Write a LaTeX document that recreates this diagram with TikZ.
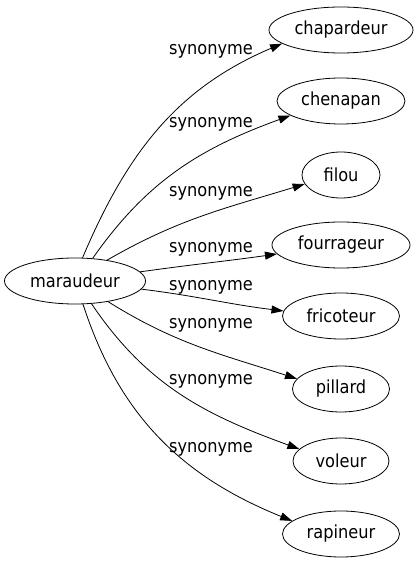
\documentclass[tikz,border=0pt]{standalone}
\usepackage{fontspec}
\setmainfont[FakeStretch=0.9]{DejaVu Sans}
\usetikzlibrary{shapes.geometric,arrows.meta}
\tikzset{
    word/.style={draw,ellipse,inner sep=0pt,minimum height=46pt,line width=.8pt,font=\fontsize{18}{20}\selectfont},
    syn/.style={font=\fontsize{18}{20}\selectfont},
    rel/.style={line width=.8pt,-{Triangle[length=12pt,width=8pt]}}
}
\begin{document}
\begin{tikzpicture}[x=1pt,y=1pt]
        \useasboundingbox (0,0) rectangle (419,563);
        \node[word,minimum width=141pt] (mar) at (75,282) {maraudeur};
        \foreach \n/\t/\y/\w in {chap/chapardeur/533/144,chen/chenapan/462/128,fil/filou/388/78,four/fourrageur/318/138,fric/fricoteur/247/117,pil/pillard/174/97,vol/voleur/102/96,rap/rapineur/29/117}{
            \node[word,minimum width=\w pt] (\n) at (341,\y) {\t};
        }
        \foreach[count=\k] \n/\a/\o/\b/\i/\ly in {chap/72/67/193/203/512,chen/52/55/196/200/439,fil/33/30/194/197/370,four/8/8/188/188/314,fric/353/-7/175/173/276,pil/328/-32/167/162/238,vol/306/-56/164/160/182,rap/289/-72/165/158/114}{
            \draw [rel] (mar.\a) to[out=\o,in=\i] (\n.\b);
            \node[syn] (l\k) at (211,\ly) {synonyme};
        }
\end{tikzpicture}
\end{document}
